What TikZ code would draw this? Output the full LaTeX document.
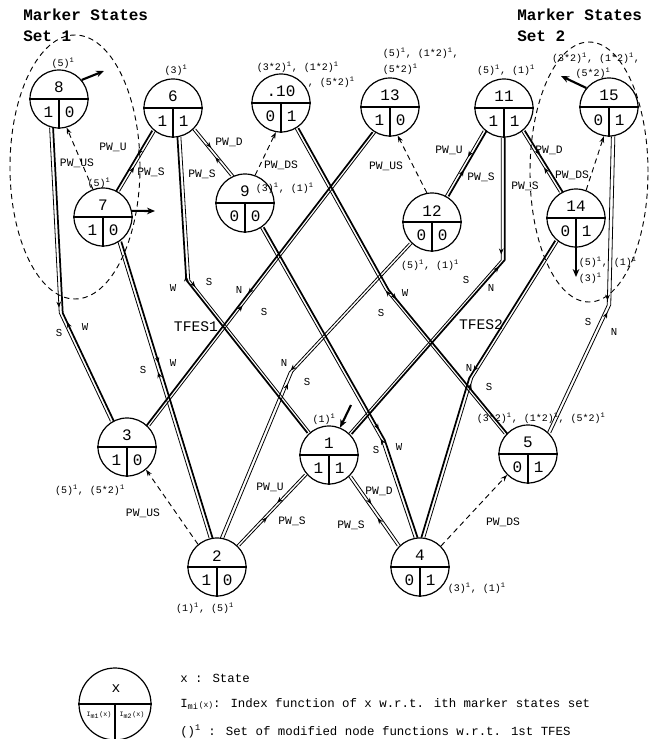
\documentclass[tikz,border=0pt]{standalone}
\usepackage{fontspec}
\setmainfont{Liberation Mono}
\usetikzlibrary{arrows.meta,decorations.markings}

% one state: number on top, the two index values below
\newcommand{\statenode}[5]{%
  \node[state] (#1) at (#2) {};
  \draw[line width=0.9pt] (#1.west) -- (#1.east) (#1.center) -- (#1.south);
  \node[num] (#1t) at ([yshift=8.5pt]#1.center) {#3};
  \node[num] (#1l) at ([xshift=-8pt,yshift=-10pt]#1.center) {#4};
  \node[num] (#1r) at ([xshift=8pt,yshift=-10pt]#1.center) {#5};
}

\begin{document}
\begin{tikzpicture}[x=0.75pt, y=-0.75pt, >=Stealth,
  state/.style={circle, draw, line width=0.9pt, minimum size=43.5pt, inner sep=0pt},
  num/.style={font=\fontsize{12}{14}\selectfont, inner sep=0pt},
  sup/.style={font=\fontsize{7.5}{9}\selectfont, inner sep=0.5pt},
  lab/.style={font=\fontsize{8.5}{10}\selectfont, inner sep=0.5pt},
  tl/.style={font=\fontsize{8}{9}\selectfont, inner sep=0.5pt},
  title/.style={font=\bfseries\fontsize{12}{14}\selectfont, anchor=west, inner sep=0pt},
  leg/.style={font=\fontsize{9.3}{11}\selectfont, anchor=west, inner sep=0pt},
  bold/.style={line width=1.3pt},
  thin/.style={line width=0.6pt},
  lft/.style={transform canvas={xshift=-1.3pt}},
  rgt/.style={transform canvas={xshift=1.3pt}},
  fwd/.style={postaction={decorate}, decoration={markings,
    mark=at position #1 with {\arrow{Stealth[length=4.5pt,width=3.5pt]}}}},
  bwd/.style={postaction={decorate}, decoration={markings,
    mark=at position #1 with {\arrowreversed{Stealth[length=4.5pt,width=3.5pt]}}}},
  pwd/.style={line width=0.7pt, dash pattern=on 4pt off 3pt, -{Stealth[length=5pt,width=3.5pt]}},
  mk/.style={line width=1.6pt, -{Stealth[length=6pt,width=5pt]}}]

\useasboundingbox (0,0) rectangle (658,739);

% marker state sets
\node[title] (ms1) at (23,15) {Marker States};
\node[title] (set1) at (23,36) {Set 1};
\node[title] (ms2) at (517,15) {Marker States};
\node[title] (set2) at (517,36) {Set 2};
\draw[line width=0.7pt, dash pattern=on 4pt off 3pt] (75,167) ellipse [x radius=48.75pt, y radius=99pt];
\draw[line width=0.7pt, dash pattern=on 4pt off 3pt] (589,172) ellipse [x radius=44.25pt, y radius=97.5pt];

% states
\statenode{n8}{59,99}{8}{1}{0}
\statenode{n6}{173,108}{6}{1}{1}
\statenode{n7}{103,217}{7}{1}{0}
\statenode{n9}{245,203}{9}{0}{0}
\statenode{n10}{281,103}{.10}{0}{1}
\statenode{n13}{390,107}{13}{1}{0}
\statenode{n11}{504,108}{11}{1}{1}
\statenode{n12}{432,222}{12}{0}{0}
\statenode{n15}{609,107}{15}{0}{1}
\statenode{n14}{576,218}{14}{0}{1}
\statenode{n3}{127,447}{3}{1}{0}
\statenode{n1}{329,455}{1}{1}{1}
\statenode{n5}{528,454}{5}{0}{1}
\statenode{n2}{217,567}{2}{1}{0}
\statenode{n4}{420,567}{4}{0}{1}

% modified node functions
\node[sup] (t8) at (63,63) {(5)\textsuperscript{1}};
\node[sup] (t6) at (176,70) {(3)\textsuperscript{1}};
\node[sup] (t7) at (99,183) {(5)\textsuperscript{1}};
\node[sup, anchor=west] (t9) at (255,188) {(3)\textsuperscript{1}, (1)\textsuperscript{1}};
\node[sup, anchor=west] (t10a) at (256,67) {(3*2)\textsuperscript{1}, (1*2)\textsuperscript{1}};
\node[sup, anchor=west] (t10b) at (307,82) {, (5*2)\textsuperscript{1}};
\node[sup, anchor=west] (t13a) at (382,53) {(5)\textsuperscript{1}, (1*2)\textsuperscript{1},};
\node[sup, anchor=west] (t13b) at (382,69) {(5*2)\textsuperscript{1}};
\node[sup] (t11) at (506,70) {(5)\textsuperscript{1}, (1)\textsuperscript{1}};
\node[sup] (t15a) at (596,58) {(3*2)\textsuperscript{1}, (1*2)\textsuperscript{1},};
\node[sup] (t15b) at (593,73) {(5*2)\textsuperscript{1}};
\node[sup] (t12) at (430,265) {(5)\textsuperscript{1}, (1)\textsuperscript{1}};
\node[sup, anchor=west] (t14a) at (578,262) {(5)\textsuperscript{1}, (1)\textsuperscript{1}};
\node[sup, anchor=west] (t14b) at (578,278) {(3)\textsuperscript{1}};
\node[sup] (t3) at (90,490) {(5)\textsuperscript{1}, (5*2)\textsuperscript{1}};
\node[sup] (t1) at (324,419) {(1)\textsuperscript{1}};
\node[sup, anchor=west] (t5) at (476,418) {(3*2)\textsuperscript{1}, (1*2)\textsuperscript{1}, (5*2)\textsuperscript{1}};
\node[sup] (t2) at (205,608) {(1)\textsuperscript{1}, (5)\textsuperscript{1}};
\node[sup, anchor=west] (t4) at (447,588) {(3)\textsuperscript{1}, (1)\textsuperscript{1}};

% marker arrows
\coordinate (a8) at (104,71);
\coordinate (a7) at (155,211);
\coordinate (a15) at (561,76);
\coordinate (a14) at (576,277);
\coordinate (a1) at (351,405);
\draw[mk] (n8.40) -- (a8);
\draw[mk] (n7.12) -- (a7);
\draw[mk] (n15.140) -- (a15);
\draw[mk] (n14.south) -- (a14);
\draw[mk] (a1) -- (n1.68);

% PW links (upper row)
\draw[pwd] (n7.110) -- (n8.-75);
\node[lab] (l78) at (77,163) {PW\_US};
\draw[bold, lft, fwd=0.4] (n6.-130) -- (n7.60);
\draw[thin, rgt, bwd=0.6] (n6.-130) -- (n7.60);
\node[lab] (l67u) at (113,147) {PW\_U};
\node[lab] (l67s) at (151,172) {PW\_S};
\draw[thin, lft, bwd=0.6] (n6.-45) -- (n9.115);
\draw[thin, rgt, fwd=0.4] (n6.-45) -- (n9.115);
\node[lab] (l69d) at (229,142) {PW\_D};
\node[lab] (l69s) at (202,174) {PW\_S};
\draw[pwd] (n9.70) -- (n10.-100);
\node[lab] (l910) at (281,165) {PW\_DS};
\draw[pwd] (n12.100) -- (n13.-75);
\node[lab] (l1213) at (386,166) {PW\_US};
\draw[thin, lft, fwd=0.4] (n11.-130) -- (n12.60);
\draw[bold, rgt, bwd=0.6] (n11.-130) -- (n12.60);
\node[lab] (l1112u) at (449,150) {PW\_U};
\node[lab] (l1112s) at (481,177) {PW\_S};
\draw[thin, lft, bwd=0.6] (n11.-50) -- (n14.120);
\draw[bold, rgt, fwd=0.4] (n11.-50) -- (n14.120);
\node[lab] (l1114d) at (549,150) {PW\_D};
\node[lab] (l1114s) at (525,186) {PW\_S};
\draw[pwd] (n14.70) -- (n15.-100);
\node[lab] (l1415) at (572,175) {PW\_DS};

% PW links (lower row)
\draw[pwd] (n2.130) -- (n3.-50);
\node[lab] (l23) at (143,513) {PW\_US};
\draw[thin, lft, fwd=0.4] (n1.-140) -- (n2.45);
\draw[thin, rgt, bwd=0.6] (n1.-140) -- (n2.45);
\node[lab] (l12u) at (270,487) {PW\_U};
\node[lab] (l12s) at (292,521) {PW\_S};
\draw[thin, lft, bwd=0.6] (n1.-45) -- (n4.135);
\draw[thin, rgt, fwd=0.4] (n1.-45) -- (n4.135);
\node[lab] (l14d) at (379,491) {PW\_D};
\node[lab] (l14s) at (351,525) {PW\_S};
\draw[pwd] (n4.45) -- (n5.-135);
\node[lab] (l45) at (503,522) {PW\_DS};

% TFES transitions
\coordinate (b83) at (61,313);
\coordinate (b61) at (188,280);
\coordinate (b94) at (383,440);
\coordinate (b105) at (387,290);
\coordinate (b122) at (291,372);
\coordinate (b111) at (503,260);
\coordinate (b144) at (471,378);
\coordinate (b155) at (609,305);

\draw[thin, lft, fwd=0.59] (n8.-105) -- (b83) -- (n3.120);
\draw[bold, rgt, bwd=0.64] (n8.-105) -- (b83) -- (n3.120);
\node[tl] (s83) at (59,333) {S};
\node[tl] (w83) at (85,327) {W};

\draw[bold, lft, bwd=0.41] (n6.-78) -- (b61) -- (n1.132);
\draw[thin, rgt, fwd=0.45] (n6.-78) -- (b61) -- (n1.132);
\node[tl] (w61) at (173,288) {W};
\node[tl] (s61) at (209,282) {S};

\draw[thin, lft, bwd=0.44] (n7.-56) -- (n2.102);
\draw[bold, rgt, fwd=0.41] (n7.-56) -- (n2.102);
\node[tl] (s72) at (143,370) {S};
\node[tl] (w72) at (173,363) {W};

\draw[thin, lft, bwd=0.7] (n9.-55) -- (b94) -- (n4.98);
\draw[bold, rgt, fwd=0.67] (n9.-55) -- (b94) -- (n4.98);
\node[tl] (s94) at (376,450) {S};
\node[tl] (w94) at (399,447) {W};

\draw[thin, lft, bwd=0.5] (n10.-58) -- (b105) -- (n5.138);
\draw[bold, rgt, fwd=0.53] (n10.-58) -- (b105) -- (n5.138);
\node[tl] (w105) at (405,293) {W};
\node[tl] (s105) at (381,313) {S};

\draw[bold, lft, fwd=0.55] (n13.-122) -- (n3.45);
\draw[thin, rgt, bwd=0.59] (n13.-122) -- (n3.45);
\node[tl] (n133) at (239,290) {N};
\node[tl] (s133) at (264,312) {S};

\draw[thin, lft, fwd=0.49] (n12.-135) -- (b122) -- (n2.80);
\draw[thin, rgt, bwd=0.53] (n12.-135) -- (b122) -- (n2.80);
\node[tl] (n122) at (284,363) {N};
\node[tl] (s122) at (307,382) {S};

\draw[thin, lft, fwd=0.33] (n11.-92) -- (b111) -- (n1.45);
\draw[bold, rgt, bwd=0.37] (n11.-92) -- (b111) -- (n1.45);
\node[tl] (s111) at (466,280) {S};
\node[tl] (n111) at (491,288) {N};

\draw[bold, lft, fwd=0.47] (n14.-130) -- (b144) -- (n4.84);
\draw[thin, rgt, bwd=0.51] (n14.-130) -- (b144) -- (n4.84);
\node[tl] (n144) at (469,368) {N};
\node[tl] (s144) at (489,387) {S};

\draw[thin, lft, fwd=0.53] (n15.-82) -- (b155) -- (n5.45);
\draw[thin, rgt, bwd=0.57] (n15.-82) -- (b155) -- (n5.45);
\node[tl] (s155) at (588,322) {S};
\node[tl] (n155) at (614,332) {N};

\node[font=\fontsize{11}{13}\selectfont] (tf1) at (196,327) {TFES1};
\node[font=\fontsize{11}{13}\selectfont] (tf2) at (481,325) {TFES2};

% legend
\node[state, minimum size=54pt] (key) at (115,704) {};
\draw[line width=0.9pt] (key.west) -- (key.east) (key.center) -- (key.south);
\node[num, font=\fontsize{11}{13}\selectfont] (keyx) at (116,689) {x};
\node[font=\fontsize{5}{6}\selectfont, inner sep=0pt] (keya) at (99,715) {I\textsubscript{m1}(x)};
\node[font=\fontsize{5}{6}\selectfont, inner sep=0pt] (keyb) at (132,715) {I\textsubscript{m2}(x)};
\node[leg] (k1) at (180,678) {x : State};
\node[leg] (k2) at (180,704) {I\textsubscript{mi}{\fontsize{6}{7}\selectfont(x)}: Index function of x w.r.t. ith marker states set};
\node[leg] (k3) at (180,731) {()\textsuperscript{1} : Set of modified node functions w.r.t. 1st TFES};
\end{tikzpicture}
\end{document}
